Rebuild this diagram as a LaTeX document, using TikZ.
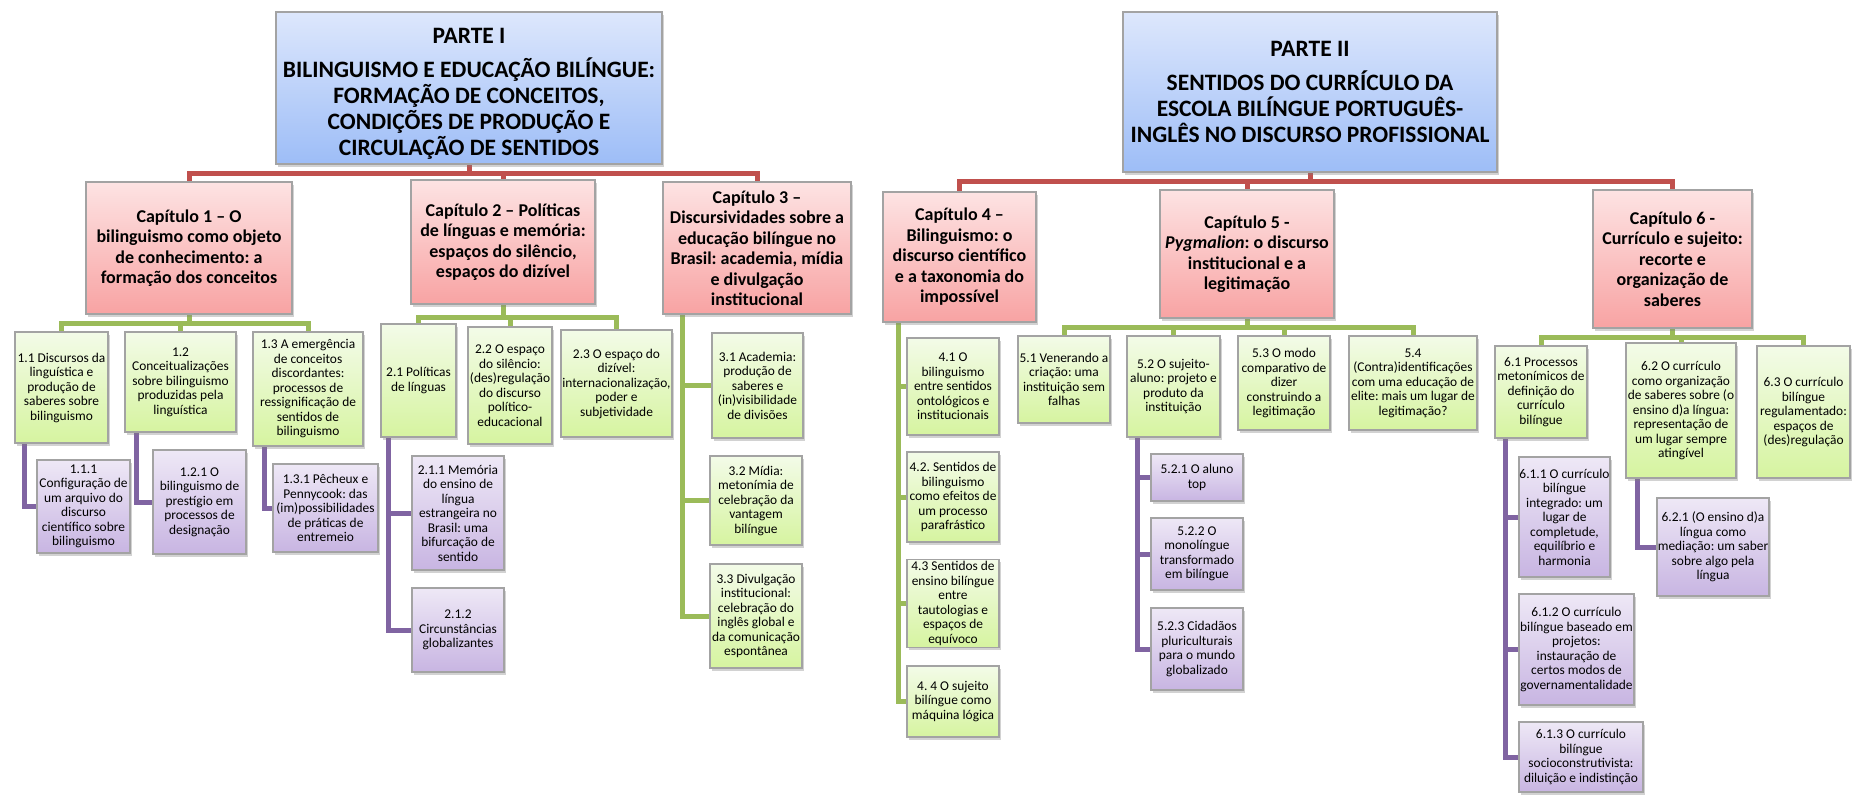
\documentclass[tikz,border=0pt]{standalone}
\usepackage{fontspec}
\setmainfont{Carlito}
\frenchspacing
\usetikzlibrary{shadows,backgrounds}

\definecolor{partTop}{HTML}{DDE7FC}
\definecolor{partBot}{HTML}{9DBDF7}
\definecolor{chapTop}{HTML}{FDE3E3}
\definecolor{chapBot}{HTML}{F8A3A3}
\definecolor{secTop}{HTML}{F3FBE8}
\definecolor{secBot}{HTML}{D6F4A0}
\definecolor{subTop}{HTML}{EEE8F6}
\definecolor{subBot}{HTML}{C8B5E2}
\definecolor{boxBorder}{HTML}{A3A3A3}
\definecolor{lnRed}{HTML}{C0504D}
\definecolor{lnGreen}{HTML}{9BBB59}
\definecolor{lnPurple}{HTML}{8064A2}

\tikzset{
  tbox/.style={draw=boxBorder, line width=1.5pt, align=center, inner xsep=0pt, inner ysep=2pt,
    drop shadow={shadow xshift=2pt, shadow yshift=-2.5pt, opacity=.35}},
  sz/.style 2 args={minimum width=#1pt, minimum height=#2pt},
  partbox/.style={tbox, top color=partTop, bottom color=partBot, font=\bfseries\fontsize{23.5}{26}\selectfont},
  chapbox/.style={tbox, top color=chapTop, bottom color=chapBot, font=\bfseries\fontsize{18}{20.5}\selectfont},
  secbox/.style={tbox, top color=secTop, bottom color=secBot, font=\fontsize{13.4}{14.5}\selectfont},
  subbox/.style={tbox, top color=subTop, bottom color=subBot, font=\fontsize{13.4}{14.5}\selectfont},
  redline/.style={draw=lnRed, line width=5pt},
  greenline/.style={draw=lnGreen, line width=5pt},
  purpleline/.style={draw=lnPurple, line width=5pt}
}

\begin{document}
\begin{tikzpicture}[x=1pt,y=-1pt]
  \useasboundingbox (0,0) rectangle (1858,795);

  \node[partbox,sz={386}{152}] (p1) at (469,88) {\rule{0pt}{27pt}PARTE I\\[8pt]BILINGUISMO E EDUCAÇÃO BILÍNGUE:\\FORMAÇÃO DE CONCEITOS,\\CONDIÇÕES DE PRODUÇÃO E\\CIRCULAÇÃO DE SENTIDOS};
  \node[partbox,sz={374}{160}] (p2) at (1310,92) {PARTE II\\[8pt]SENTIDOS DO CURRÍCULO DA\\ESCOLA BILÍNGUE PORTUGUÊS-\\INGLÊS NO DISCURSO PROFISSIONAL};

  \node[chapbox,sz={206}{132}] (c1) at (189,248) {Capítulo 1 – O\\bilinguismo como objeto\\de conhecimento: a\\formação dos conceitos};
  \node[chapbox,sz={184}{124}] (c2) at (503,242) {Capítulo 2 – Políticas\\de línguas e memória:\\espaços do silêncio,\\espaços do dizível};
  \node[chapbox,sz={188}{132}] (c3) at (757,248) {Capítulo 3 –\\Discursividades sobre a\\educação bilíngue no\\Brasil: academia, mídia\\e divulgação\\institucional};
  \node[chapbox,sz={153}{130}] (c4) at (959.5,257) {Capítulo 4 –\\Bilinguismo: o\\discurso científico\\e a taxonomia do\\impossível};
  \node[chapbox,sz={174}{128}] (c5) at (1247,254) {Capítulo 5 -\\\textit{Pygmalion}: o discurso\\institucional e a\\legitimação};
  \node[chapbox,sz={159}{138}] (c6) at (1672.5,259) {Capítulo 6 -\\Currículo e sujeito:\\recorte e\\organização de\\saberes};

  \node[secbox,sz={93}{111}] (s11) at (61.5,387.5) {1.1 Discursos da\\linguística e\\produção de\\saberes sobre\\bilinguismo};
  \node[secbox,sz={111}{100}] (s12) at (180.5,382) {1.2\\Conceitualizações\\sobre bilinguismo\\produzidas pela\\linguística};
  \node[secbox,sz={110}{114}] (s13) at (308,389) {1.3 A emergência\\de conceitos\\discordantes:\\processos de\\ressignificação de\\sentidos de\\bilinguismo};
  \node[subbox,sz={93}{93}] (s111) at (83.5,506.5) {1.1.1\\Configuração de\\um arquivo do\\discurso\\científico sobre\\bilinguismo};
  \node[subbox,sz={93}{104}] (s121) at (199.5,502) {1.2.1 O\\bilinguismo de\\prestígio em\\processos de\\designação};
  \node[subbox,sz={105}{88}] (s131) at (325.5,508) {1.3.1 Pêcheux e\\Pennycook: das\\(im)possibilidades\\de práticas de\\entremeio};

  \node[secbox,sz={75}{113}] (s21) at (418.5,380.5) {2.1 Políticas\\de línguas};
  \node[secbox,sz={84}{117}] (s22) at (510,385.5) {2.2 O espaço\\do silêncio:\\(des)regulação\\do discurso\\político-\\educacional};
  \node[secbox,sz={111}{107}] (s23) at (616.5,383.5) {2.3 O espaço do\\dizível:\\internacionalização,\\poder e\\subjetividade};
  \node[subbox,sz={92}{114}] (s211) at (458,513) {2.1.1 Memória\\do ensino de\\língua\\estrangeira no\\Brasil: uma\\bifurcação de\\sentido};
  \node[subbox,sz={92}{84}] (s212) at (458,630) {2.1.2\\Circunstâncias\\globalizantes};

  \node[secbox,sz={91}{105}] (s31) at (757.5,385.5) {3.1 Academia:\\produção de\\saberes e\\(in)visibilidade\\de divisões};
  \node[secbox,sz={92}{89}] (s32) at (756,500.5) {3.2 Mídia:\\metonímia de\\celebração da\\vantagem\\bilíngue};
  \node[secbox,sz={92}{104}] (s33) at (756,616) {3.3 Divulgação\\institucional:\\celebração do\\inglês global e\\da comunicação\\espontânea};

  \node[secbox,sz={92}{97}] (s41) at (953,386.5) {4.1 O\\bilinguismo\\entre sentidos\\ontológicos e\\institucionais};
  \node[secbox,sz={92}{90}] (s42) at (953,497) {4.2. Sentidos de\\bilinguismo\\como efeitos de\\um processo\\parafrástico};
  \node[secbox,sz={92}{87}] (s43) at (953,603.5) {4.3 Sentidos de\\ensino bilíngue\\entre\\tautologias e\\espaços de\\equívoco};
  \node[secbox,sz={92}{71}] (s44) at (953,701.5) {4. 4 O sujeito\\bilíngue como\\máquina lógica};

  \node[secbox,sz={92}{87}] (s51) at (1064,379.5) {5.1 Venerando a\\criação: uma\\instituição sem\\falhas};
  \node[secbox,sz={93}{101}] (s52) at (1173.5,386.5) {5.2 O sujeito-\\aluno: projeto e\\produto da\\instituição};
  \node[secbox,sz={92}{94}] (s53) at (1284,383) {5.3 O modo\\comparativo de\\dizer\\construindo a\\legitimação};
  \node[secbox,sz={128}{94}] (s54) at (1413,383) {5.4\\(Contra)identificações\\com uma educação de\\elite: mais um lugar de\\legitimação?};
  \node[subbox,sz={92}{47}] (s521) at (1197,477.5) {5.2.1 O aluno\\top};
  \node[subbox,sz={92}{72}] (s522) at (1197,554) {5.2.2 O\\monolíngue\\transformado\\em bilíngue};
  \node[subbox,sz={92}{82}] (s523) at (1197,649) {5.2.3 Cidadãos\\pluriculturais\\para o mundo\\globalizado};

  \node[secbox,sz={92}{92}] (s61) at (1541,392) {6.1 Processos\\metonímicos de\\definição do\\currículo\\bilíngue};
  \node[secbox,sz={110}{135}] (s62) at (1681,410.5) {6.2 O currículo\\como organização\\de saberes sobre (o\\ensino d)a língua:\\representação de\\um lugar sempre\\atingível};
  \node[secbox,sz={93}{132}] (s63) at (1803.5,412) {6.3 O currículo\\bilíngue\\regulamentado:\\espaços de\\(des)regulação};
  \node[subbox,sz={91}{120}] (s611) at (1564.5,517) {6.1.1 O currículo\\bilíngue\\integrado: um\\lugar de\\completude,\\equilíbrio e\\harmonia};
  \node[subbox,sz={115}{111}] (s612) at (1576.5,649.5) {6.1.2 O currículo\\bilíngue baseado em\\projetos:\\instauração de\\certos modos de\\governamentalidade};
  \node[subbox,sz={124}{70}] (s613) at (1581,757) {6.1.3 O currículo\\bilíngue\\socioconstrutivista:\\diluição e indistinção};
  \node[subbox,sz={112}{98}] (s621) at (1713,547) {6.2.1 (O ensino d)a\\língua como\\mediação: um saber\\sobre algo pela\\língua};

  \begin{scope}[on background layer]
    \fill[white] (0,0) rectangle (1858,795);

    \draw[redline] (p1.south) -- ++(0,9) -| (c1.north);
    \draw[redline] (p1.south) -- ++(0,9) -| (c2.north);
    \draw[redline] (p1.south) -- ++(0,9) -| (c3.north);
    \draw[redline] (p2.south) -- ++(0,9) -| (c4.north);
    \draw[redline] (p2.south) -- ++(0,9) -| (c5.north);
    \draw[redline] (p2.south) -- ++(0,9) -| (c6.north);

    \draw[greenline] (c1.south) -- ++(0,9) -| (s11.north);
    \draw[greenline] (c1.south) -- ++(0,9) -| (s12.north);
    \draw[greenline] (c1.south) -- ++(0,9) -| (s13.north);
    \draw[greenline] (c2.south) -- ++(0,13) -| (s21.north);
    \draw[greenline] (c2.south) -- ++(0,13) -| (s22.north);
    \draw[greenline] (c2.south) -- ++(0,13) -| (s23.north);
    \draw[greenline] ([xshift=20pt]c3.south west) |- (s31.west);
    \draw[greenline] ([xshift=20pt]c3.south west) |- (s32.west);
    \draw[greenline] ([xshift=20pt]c3.south west) |- (s33.west);
    \draw[greenline] ([xshift=16pt]c4.south west) |- (s41.west);
    \draw[greenline] ([xshift=16pt]c4.south west) |- (s42.west);
    \draw[greenline] ([xshift=16pt]c4.south west) |- (s43.west);
    \draw[greenline] ([xshift=16pt]c4.south west) |- (s44.west);
    \draw[greenline] (c5.south) -- ++(0,9) -| (s51.north);
    \draw[greenline] (c5.south) -- ++(0,9) -| (s52.north);
    \draw[greenline] (c5.south) -- ++(0,9) -| (s53.north);
    \draw[greenline] (c5.south) -- ++(0,9) -| (s54.north);
    \draw[greenline] (c6.south) -- ++(0,9) -| (s61.north);
    \draw[greenline] (c6.south) -- ++(0,9) -| (s62.north);
    \draw[greenline] (c6.south) -- ++(0,9) -| (s63.north);

    \draw[purpleline] ([xshift=10pt]s11.south west) |- (s111.west);
    \draw[purpleline] ([xshift=12pt]s12.south west) |- (s121.west);
    \draw[purpleline] ([xshift=12pt]s13.south west) |- (s131.west);
    \draw[purpleline] ([xshift=8pt]s21.south west) |- (s211.west);
    \draw[purpleline] ([xshift=8pt]s21.south west) |- (s212.west);
    \draw[purpleline] ([xshift=11pt]s52.south west) |- (s521.west);
    \draw[purpleline] ([xshift=11pt]s52.south west) |- (s522.west);
    \draw[purpleline] ([xshift=11pt]s52.south west) |- (s523.west);
    \draw[purpleline] ([xshift=11pt]s61.south west) |- (s611.west);
    \draw[purpleline] ([xshift=11pt]s61.south west) |- (s612.west);
    \draw[purpleline] ([xshift=11pt]s61.south west) |- (s613.west);
    \draw[purpleline] ([xshift=12pt]s62.south west) |- (s621.west);
  \end{scope}
\end{tikzpicture}
\end{document}
